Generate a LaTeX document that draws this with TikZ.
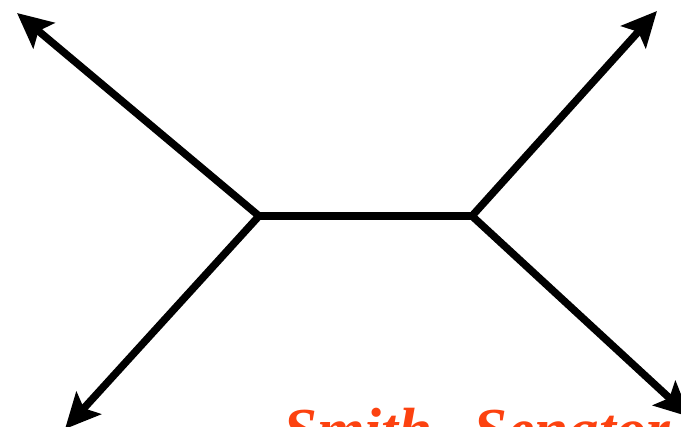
\documentclass[tikz,border=0pt]{standalone}
\usepackage{fontspec}
\setmainfont{Liberation Serif}
\usetikzlibrary{arrows.meta}
\definecolor{labelred}{RGB}{252,66,16}
\tikzset{
  edge/.style={line width=7.5pt, line join=miter},
  arrowedge/.style={edge, -{Stealth[length=35pt, width=33pt, inset=7pt]}},
  leaflabel/.style={text=labelred, font=\fontsize{61}{62}\selectfont\bfseries\itshape, inner sep=0pt, anchor=base west}
}
\begin{document}
\begin{tikzpicture}[x=1pt,y=1pt]
\useasboundingbox (0,0) rectangle (681,427);
\coordinate (L) at (259,211);
\coordinate (R) at (472,211);
\coordinate (TL) at (17,414);
\coordinate (BL) at (65,-2);
\coordinate (TR) at (657,416);
\coordinate (BR) at (690,10);
\draw[edge] (L) -- (R);
\draw[arrowedge] (L) -- (TL);
\draw[arrowedge] (L) -- (BL);
\draw[arrowedge] (R) -- (TR);
\draw[arrowedge] (R) -- (BR);
\node[leaflabel] (lab) at (283,-24) {Smith \hspace{26pt}Senator};
\end{tikzpicture}
\end{document}
